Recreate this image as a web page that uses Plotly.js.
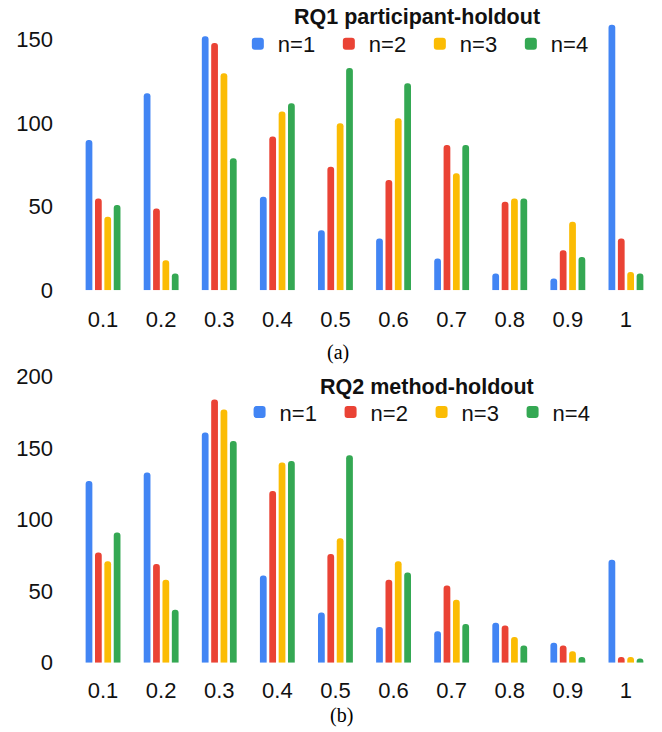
<!DOCTYPE html>
<html>
<head>
<meta charset="utf-8">
<script src="https://cdn.plot.ly/plotly-3.0.1.min.js"></script>
<style>html,body{margin:0;padding:0;background:#fff;}#chart{width:662px;height:732px;}</style>
</head>
<body>
<div id="chart"></div>
<script>
// Categories (x-axis tick labels)
const categories = ['0.1','0.2','0.3','0.4','0.5','0.6','0.7','0.8','0.9','1'];
const seriesNames = ['n=1','n=2','n=3','n=4'];

// (a) RQ1 participant-holdout
const rq1_n1 = [90, 118, 152, 56, 36, 31, 19, 10, 7, 159];
const rq1_n2 = [55, 49, 148, 92, 74, 66, 87, 53, 24, 31];
const rq1_n3 = [44, 18, 130, 107, 100, 103, 70, 55, 41, 11];
const rq1_n4 = [51, 10, 79, 112, 133, 124, 87, 55, 20, 10];

// (b) RQ2 method-holdout
const rq2_n1 = [127, 133, 161, 61, 35, 25, 22, 28, 14, 72];
const rq2_n2 = [77, 69, 184, 120, 76, 58, 54, 26, 12, 4];
const rq2_n3 = [71, 58, 177, 140, 87, 71, 44, 18, 8, 4];
const rq2_n4 = [91, 37, 155, 141, 145, 63, 27, 12, 4, 3];

const colors = ['#4285F4', '#EA4335', '#FBBC04', '#34A853'];
const FONT = 'Liberation Sans, Arial, sans-serif';
const TXT = '#111';

const rq1 = [rq1_n1, rq1_n2, rq1_n3, rq1_n4];
const rq2 = [rq2_n1, rq2_n2, rq2_n3, rq2_n4];

const traces = [];
rq1.forEach((vals, i) => traces.push({
  type: 'bar', x: categories, y: vals, name: seriesNames[i],
  marker: {color: colors[i], cornerradius: 3},
  xaxis: 'x', yaxis: 'y', legend: 'legend', hoverinfo: 'none'
}));
rq2.forEach((vals, i) => traces.push({
  type: 'bar', x: categories, y: vals, name: seriesNames[i],
  marker: {color: colors[i], cornerradius: 3},
  xaxis: 'x2', yaxis: 'y2', legend: 'legend2', hoverinfo: 'none'
}));

const tickFont = {family: FONT, size: 22, color: TXT};
const xBase = {type: 'category', showgrid: false, zeroline: false, showline: false, ticks: '', tickfont: tickFont};
const yBase = {showgrid: false, zeroline: false, showline: false, ticks: '', tickfont: tickFont, ticklabelstandoff: 20};

const legendBase = {
  orientation: 'h', xanchor: 'left', yanchor: 'middle',
  font: {family: FONT, size: 22, color: TXT},
  bgcolor: 'rgba(0,0,0,0)', traceorder: 'normal',
  entrywidth: 46, entrywidthmode: 'pixels'
};

const layout = {
  width: 662, height: 732,
  margin: {l: 74, r: 6.5, t: 0, b: 0},
  paper_bgcolor: '#fff', plot_bgcolor: '#fff',
  barmode: 'group', bargap: 0.355, bargroupgap: 0.28,
  xaxis: Object.assign({}, xBase, {anchor: 'y', ticklabelstandoff: 14}),
  yaxis: Object.assign({}, yBase, {domain: [0.6034, 0.9914], range: [0, 170], tickvals: [0, 50, 100, 150]}),
  xaxis2: Object.assign({}, xBase, {anchor: 'y2', ticklabelstandoff: 12}),
  yaxis2: Object.assign({}, yBase, {domain: [0.0947, 0.4952], range: [0, 205], tickvals: [0, 50, 100, 150, 200]}),
  legend: Object.assign({}, legendBase, {x: 0.282, y: 0.94}),
  legend2: Object.assign({}, legendBase, {x: 0.285, y: 0.437}),
  annotations: [
    {text: '<b>RQ1 participant-holdout</b>', xref: 'paper', yref: 'paper', x: 0.5897, y: 0.977, showarrow: false,
     xanchor: 'center', yanchor: 'middle', font: {family: FONT, size: 21.5, color: TXT}},
    {text: '<b>RQ2 method-holdout</b>', xref: 'paper', yref: 'paper', x: 0.607, y: 0.4713, showarrow: false,
     xanchor: 'center', yanchor: 'middle', font: {family: FONT, size: 21.5, color: TXT}},
    {text: '(a)', xref: 'paper', yref: 'paper', x: 0.454, y: 0.519, showarrow: false,
     xanchor: 'center', yanchor: 'middle', font: {family: 'Liberation Serif, Times New Roman, serif', size: 20, color: '#000'}},
    {text: '(b)', xref: 'paper', yref: 'paper', x: 0.461, y: 0.0232, showarrow: false,
     xanchor: 'center', yanchor: 'middle', font: {family: 'Liberation Serif, Times New Roman, serif', size: 20, color: '#000'}}
  ],
  showlegend: true
};

Plotly.newPlot('chart', traces, layout, {displayModeBar: false, staticPlot: true});
</script>
</body>
</html>
